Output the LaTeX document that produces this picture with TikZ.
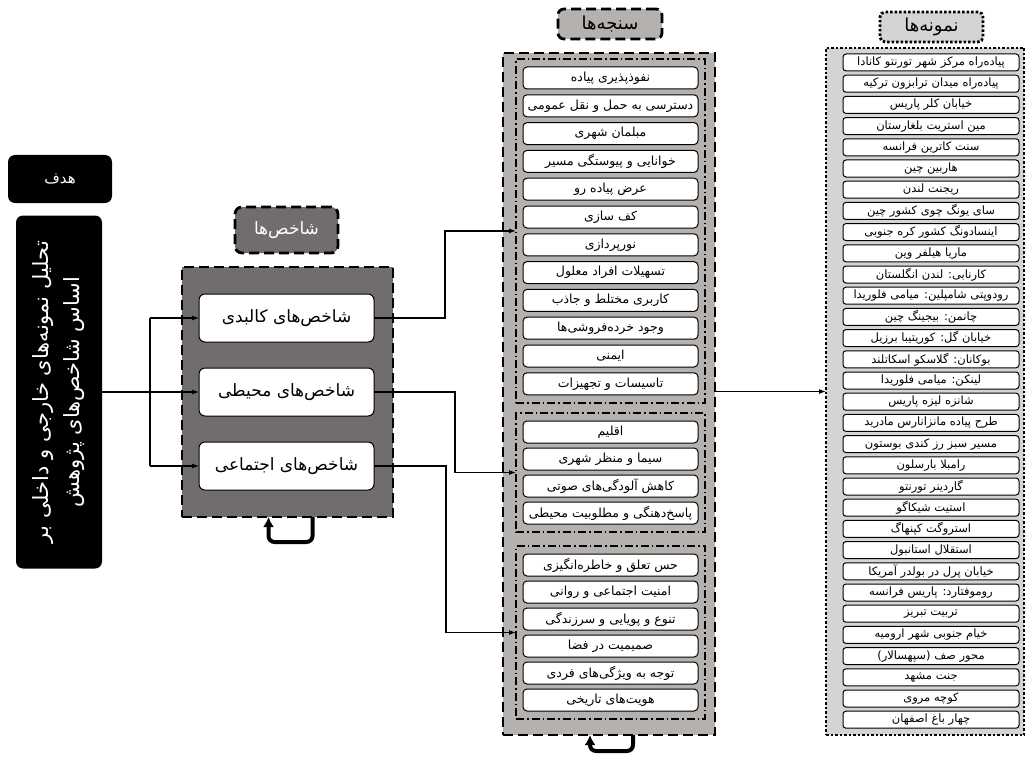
\documentclass[tikz,border=0pt]{standalone}
\usepackage{fontspec}
\usepackage{xcolor}
\usepackage{tikz}
\usetikzlibrary{arrows.meta, positioning, fit}
\TeXXeTstate=1
\newfontfamily\farsi[Script=Arabic]{DejaVu Sans}
\newcommand{\fatxt}[1]{{\farsi\beginR #1\endR}}
\definecolor{indgray}{RGB}{113,109,108}
\definecolor{metgray}{RGB}{180,177,175}
\definecolor{sampgray}{RGB}{212,212,212}

\begin{document}
\begin{tikzpicture}[
  x=1pt, y=-1pt,
  every node/.style={inner sep=0pt, outer sep=0pt},
  blackbox/.style={rectangle, rounded corners=7pt, fill=black, text=white},
  crit/.style={rectangle, draw, rounded corners=6pt, fill=white, line width=1pt, minimum width=175pt, minimum height=48pt, font=\fontsize{17}{20}\selectfont},
  metric/.style={rectangle, draw, rounded corners=4pt, fill=white, line width=1pt, minimum width=175pt, minimum height=22pt, font=\fontsize{12.5}{14}\selectfont},
  sample/.style={rectangle, draw, rounded corners=3pt, fill=white, line width=1pt, minimum width=176pt, minimum height=17pt, font=\fontsize{11.5}{13}\selectfont},
  bigdash/.style={draw, line width=2.8pt, dash pattern=on 10pt off 5pt},
  dashdot/.style={draw, line width=1.4pt, dash pattern=on 8pt off 3pt on 1.5pt off 3pt},
  bigdot/.style={draw, line width=2.8pt, dash pattern=on 2.5pt off 2pt},
  arr/.style={-{Latex[length=7pt, width=5pt]}, line width=1.2pt},
  backarr/.style={-{Latex[length=10pt, width=11pt]}, line width=4pt, rounded corners=6pt}
]
  \useasboundingbox (0,0) rectangle (1028,757);

  % containers
  \node[bigdash, fill=indgray, minimum width=211pt, minimum height=250pt] (ind) at (287.5,392) {};
  \node[bigdash, fill=metgray, minimum width=212pt, minimum height=682pt] (met) at (609,394) {};
  \node[bigdot, fill=sampgray, minimum width=198pt, minimum height=687pt] (samp) at (925,391.5) {};

  % titles
  \node[bigdash, fill=indgray, rounded corners=7pt, minimum width=103pt, minimum height=46pt, text=white, font=\fontsize{17}{19}\selectfont] (indt) at (286.5,230) {\fatxt{شاخص^^^^200cها}};
  \node[bigdash, fill=metgray, rounded corners=6pt, minimum width=104pt, minimum height=30pt, font=\fontsize{18}{20}\selectfont] (mett) at (610,24) {\fatxt{سنجه^^^^200cها}};
  \node[bigdot, fill=sampgray, rounded corners=5pt, minimum width=103pt, minimum height=30pt, font=\fontsize{18}{20}\selectfont] (sampt) at (931.5,27) {\fatxt{نمونه^^^^200cها}};

  % goal
  \node[blackbox, minimum width=104pt, minimum height=48pt, font=\fontsize{15}{17}\selectfont] (tag) at (60,179) {\fatxt{هدف}};
  \node[blackbox, rotate=90, align=center, minimum width=353pt, minimum height=86pt, font=\fontsize{21}{31}\selectfont] (goal) at (59,392)
    {\fatxt{تحلیل نمونه^^^^200cهای خارجی و داخلی بر}\\\fatxt{اساس شاخص^^^^200cهای پژوهش}};

  % indicators
  \node[crit] (k1) at (286.5,318) {\fatxt{شاخص^^^^200cهای کالبدی}};
  \node[crit, below=26pt of k1] (k2) {\fatxt{شاخص^^^^200cهای محیطی}};
  \node[crit, below=26pt of k2] (k3) {\fatxt{شاخص^^^^200cهای اجتماعی}};

  % metrics
  \node[metric] (m1) at (610.5,78) {\fatxt{نفوذپذیری پیاده}};
  \node[metric, below=5.8pt of m1] (m2) {\fatxt{دسترسی به حمل و نقل عمومی}};
  \node[metric, below=5.8pt of m2] (m3) {\fatxt{مبلمان شهری}};
  \node[metric, below=5.8pt of m3] (m4) {\fatxt{خوانایی و پیوستگی مسیر}};
  \node[metric, below=5.8pt of m4] (m5) {\fatxt{عرض پیاده رو}};
  \node[metric, below=5.8pt of m5] (m6) {\fatxt{کف سازی}};
  \node[metric, below=5.8pt of m6] (m7) {\fatxt{نورپردازی}};
  \node[metric, below=5.8pt of m7] (m8) {\fatxt{تسهیلات افراد معلول}};
  \node[metric, below=5.8pt of m8] (m9) {\fatxt{کاربری مختلط و جاذب}};
  \node[metric, below=5.8pt of m9] (m10) {\fatxt{وجود خرده^^^^200cفروشی^^^^200cها}};
  \node[metric, below=5.8pt of m10] (m11) {\fatxt{ایمنی}};
  \node[metric, below=5.8pt of m11] (m12) {\fatxt{تاسیسات و تجهیزات}};

  \node[metric] (m13) at (610.5,432) {\fatxt{اقلیم}};
  \node[metric, below=5pt of m13] (m14) {\fatxt{سیما و منظر شهری}};
  \node[metric, below=5pt of m14] (m15) {\fatxt{کاهش آلودگی^^^^200cهای صوتی}};
  \node[metric, below=5pt of m15] (m16) {\fatxt{پاسخ^^^^200cدهنگی و مطلوبیت محیطی}};

  \node[metric] (m17) at (610.5,565) {\fatxt{حس تعلق و خاطره^^^^200cانگیزی}};
  \node[metric, below=5pt of m17] (m18) {\fatxt{امنیت اجتماعی و روانی}};
  \node[metric, below=5pt of m18] (m19) {\fatxt{تنوع و پویایی و سرزندگی}};
  \node[metric, below=5pt of m19] (m20) {\fatxt{صمیمیت در فضا}};
  \node[metric, below=5pt of m20] (m21) {\fatxt{توجه به ویژگی^^^^200cهای فردی}};
  \node[metric, below=5pt of m21] (m22) {\fatxt{هویت^^^^200cهای تاریخی}};

  \node[dashdot, fit=(m1)(m12), inner xsep=7pt, inner ysep=8pt] (g1) {};
  \node[dashdot, fit=(m13)(m16), inner xsep=7pt, inner ysep=8pt] (g2) {};
  \node[dashdot, fit=(m17)(m22), inner xsep=7pt, inner ysep=8pt] (g3) {};

  % samples
  \node[sample] (s1) at (931,62.5) {\fatxt{پیاده^^^^200cراه مرکز شهر تورنتو کانادا}};
  \node[sample, below=4.2pt of s1] (s2) {\fatxt{پیاده^^^^200cراه میدان ترابزون ترکیه}};
  \node[sample, below=4.2pt of s2] (s3) {\fatxt{خیابان کلر پاریس}};
  \node[sample, below=4.2pt of s3] (s4) {\fatxt{مین استریت بلغارستان}};
  \node[sample, below=4.2pt of s4] (s5) {\fatxt{سنت کاترین فرانسه}};
  \node[sample, below=4.2pt of s5] (s6) {\fatxt{هاربین چین}};
  \node[sample, below=4.2pt of s6] (s7) {\fatxt{ریجنت لندن}};
  \node[sample, below=4.2pt of s7] (s8) {\fatxt{سای یونگ چوی کشور چین}};
  \node[sample, below=4.2pt of s8] (s9) {\fatxt{اینسادونگ کشور کره جنوبی}};
  \node[sample, below=4.2pt of s9] (s10) {\fatxt{ماریا هیلفر وین}};
  \node[sample, below=4.2pt of s10] (s11) {\fatxt{کارنابی: لندن انگلستان}};
  \node[sample, below=4.2pt of s11] (s12) {\fatxt{رودوپتی شامپلین: میامی فلوریدا}};
  \node[sample, below=4.2pt of s12] (s13) {\fatxt{چانمن: بیجینگ چین}};
  \node[sample, below=4.2pt of s13] (s14) {\fatxt{خیابان گل: کوریتیبا برزیل}};
  \node[sample, below=4.2pt of s14] (s15) {\fatxt{بوکانان: گلاسکو اسکاتلند}};
  \node[sample, below=4.2pt of s15] (s16) {\fatxt{لینکن: میامی فلوریدا}};
  \node[sample, below=4.2pt of s16] (s17) {\fatxt{شانزه لیزه پاریس}};
  \node[sample, below=4.2pt of s17] (s18) {\fatxt{طرح پیاده مانزانارس مادرید}};
  \node[sample, below=4.2pt of s18] (s19) {\fatxt{مسیر سبز رز کندی بوستون}};
  \node[sample, below=4.2pt of s19] (s20) {\fatxt{رامبلا بارسلون}};
  \node[sample, below=4.2pt of s20] (s21) {\fatxt{گاردینر تورنتو}};
  \node[sample, below=4.2pt of s21] (s22) {\fatxt{استیت شیکاگو}};
  \node[sample, below=4.2pt of s22] (s23) {\fatxt{استروگت کپنهاگ}};
  \node[sample, below=4.2pt of s23] (s24) {\fatxt{استقلال استانبول}};
  \node[sample, below=4.2pt of s24] (s25) {\fatxt{خیابان پرل در بولدر آمریکا}};
  \node[sample, below=4.2pt of s25] (s26) {\fatxt{روموفتارد: پاریس فرانسه}};
  \node[sample, below=4.2pt of s26] (s27) {\fatxt{تربیت تبریز}};
  \node[sample, below=4.2pt of s27] (s28) {\fatxt{خیام جنوبی شهر ارومیه}};
  \node[sample, below=4.2pt of s28] (s29) {\fatxt{محور صف (سپهسالار)}};
  \node[sample, below=4.2pt of s29] (s30) {\fatxt{جنت مشهد}};
  \node[sample, below=4.2pt of s30] (s31) {\fatxt{کوچه مروی}};
  \node[sample, below=4.2pt of s31] (s32) {\fatxt{چهار باغ اصفهان}};

  % connectors
  \coordinate (bus) at (150,392);
  \draw[arr] (goal.south) -- (k2.west);
  \draw[line width=1.2pt] (bus |- k1) -- (bus |- k3);
  \draw[arr] (bus |- k1) -- (k1.west);
  \draw[arr] (bus |- k3) -- (k3.west);

  \draw[arr] (k1.east) -- ++(71,0) |- (g1.west);
  \draw[arr] (k2.east) -- ++(81,0) |- (g2.west);
  \draw[arr] (k3.east) -- ++(72,0) |- (g3.west);

  \draw[arr] (samp.west -| met.east) -- (samp.west);

  \draw[backarr] ([xshift=25pt]ind.south) -- ++(0,25) -| ([xshift=-19pt]ind.south);
  \draw[backarr] ([xshift=24pt]met.south) -- ++(0,16) -| ([xshift=-19pt]met.south);
\end{tikzpicture}
\end{document}
